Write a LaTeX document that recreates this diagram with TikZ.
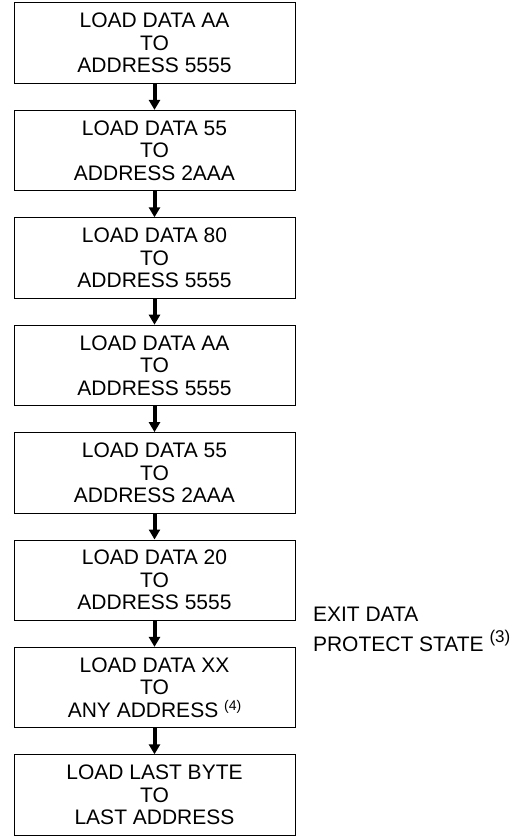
\documentclass[tikz,border=0pt]{standalone}
\usepackage{fontspec}
\setmainfont{Liberation Sans}
\usetikzlibrary{positioning}
\usetikzlibrary{arrows.meta}
\newcommand{\fnote}[3][14]{{\fontsize{#1}{#1}\selectfont\raisebox{#2}{#3}}}

\begin{document}
\begin{tikzpicture}[>={Triangle[width=11pt,length=10pt]},every node/.style={shape=rectangle,draw,line width=1pt,minimum width=281pt,minimum height=80.5pt,align=center,font=\fontsize{21}{22.5}\selectfont},node distance=25.9pt,]
	    \useasboundingbox (0,0) rectangle (530pt,-837pt);
	    % create the nodes
		    \node (p1) at (154.5pt,-43.25pt) {LOAD DATA AA\\TO\\ADDRESS 5555}; %unlock
		    \node (p2)[below =of p1] {LOAD DATA 55\\TO\\ADDRESS 2AAA};
		    \node (p3)[below =of p2] {LOAD DATA 80\\TO\\ADDRESS 5555};
		    \node (p4)[below =of p3] {LOAD DATA AA\\TO\\ADDRESS 5555};
		    \node (p5)[below =of p4] {LOAD DATA 55\\TO\\ADDRESS 2AAA};
		    \node (p6)[below =of p5] {LOAD DATA 20\\TO\\ADDRESS 5555};
		    \node (p7)[below =of p6] {LOAD DATA XX\\TO\\ANY ADDRESS \fnote[14]{7pt}{(4)}};
		    \node (p8)[below =of p7] {LOAD LAST BYTE\\TO\\LAST ADDRESS}; %write
		    \node[draw=none,minimum width=0pt,minimum height=0pt,inner sep=0pt,align=left,anchor=north west,font=\fontsize{21}{30}\selectfont] (exit) at ([xshift=17pt,yshift=14pt]p6.south east) {EXIT DATA\\PROTECT STATE \fnote[17]{9pt}{(3)}}; %side note
	    % connect them
		    \foreach \i/\j in {1/2,2/3,3/4,4/5,5/6,6/7,7/8}
		        \draw[->,line width=4pt] (p\i) -- (p\j);
		\end{tikzpicture}
\end{document}
